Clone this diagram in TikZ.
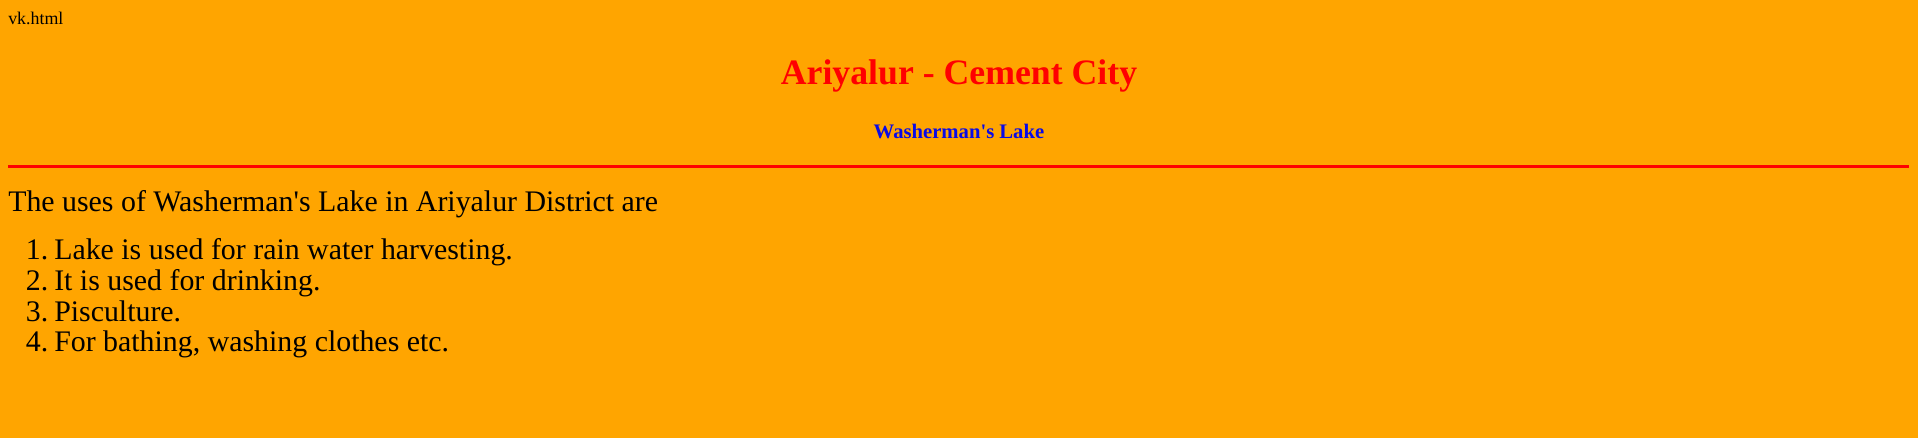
\documentclass[tikz,border=0pt]{standalone}
\usepackage{fontspec}
\setmainfont{Liberation Serif}
\definecolor{pageorange}{HTML}{FFA500}
\definecolor{headred}{HTML}{FF0000}
\definecolor{subblue}{HTML}{0A0AE6}
\tikzset{
	plaintext/.style={inner sep=0pt, anchor=base west, text=black},
	listnum/.style={inner sep=0pt, anchor=base east, text=black, font=\fontsize{22.4}{26}\selectfont},
	listitem/.style={plaintext, font=\fontsize{22.4}{26}\selectfont},
	headline/.style={inner sep=0pt, anchor=base, font=\fontsize{26.8}{32}\selectfont\bfseries}
}

\begin{document}
\begin{tikzpicture}[x=0.75pt, y=-0.75pt]
		%%%%% START %%%%%
		\fill[pageorange] (0, 0) rectangle (1918, 438);
		\useasboundingbox (0, 0) rectangle (1918, 438);
		
		\node[plaintext, font=\fontsize{13.4}{16}\selectfont] (file) at (8, 25) {vk.html};
		
		\node[headline, text=headred] (title) at (959, 85) {Ariyalur - Cement City};
		\node[headline, text=subblue, font=\fontsize{15.5}{18}\selectfont\bfseries] (lake) at (959, 139) {Washerman\textquotesingle s Lake};
		
		\coordinate (hrleft) at (8, 166.7);
		\coordinate (hrright) at (1909, 166.7);
		\draw[headred, line width=1.8pt] (hrleft) -- (hrright);
		
		\node[listitem] (intro) at (8, 211.5) {The uses of Washerman\textquotesingle s Lake in Ariyalur District are};
		
		\node[listnum] (num1) at (48.5, 260) {1.};
		\node[listitem] (use1) at (54, 260) {Lake is used for rain water harvesting.};
		\node[listnum] (num2) at (48.5, 290.7) {2.};
		\node[listitem] (use2) at (54, 290.7) {It is used for drinking.};
		\node[listnum] (num3) at (48.5, 321.2) {3.};
		\node[listitem] (use3) at (54, 321.2) {Pisculture.};
		\node[listnum] (num4) at (48.5, 351.7) {4.};
		\node[listitem] (use4) at (54, 351.7) {For bathing, washing clothes etc.};
		%%%%% END %%%%%
	\end{tikzpicture}
\end{document}
